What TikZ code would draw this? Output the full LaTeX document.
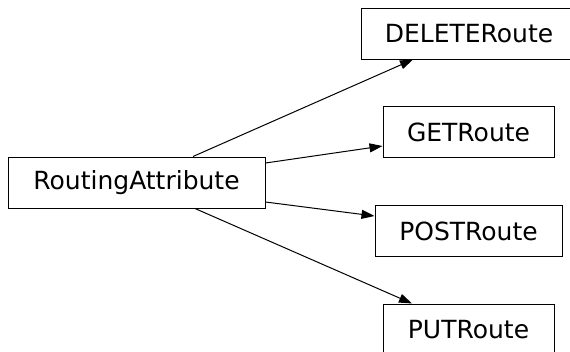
\documentclass[tikz,border=0pt]{standalone}
\usepackage{fontspec}
\setmainfont{DejaVu Sans}
\usetikzlibrary{arrows.meta,positioning}
\tikzset{
	cls/.style={draw,rectangle,line width=1pt,inner sep=0pt,minimum height=51pt,align=center,font=\fontsize{25}{30}\selectfont},
	inh/.style={line width=1pt,-{Triangle[length=13pt,width=9pt]}}
}
\begin{document}
\begin{tikzpicture}[x=1pt,y=-1pt]
			\useasboundingbox (0,0) rectangle (570,351);
			\node[cls,minimum width=257pt] (ra) at (136.5,182.5) {RoutingAttribute};
			\node[cls,minimum width=216pt] (del) at (469,33.5) {DELETERoute};
			\node[cls,minimum width=171pt] (get) at (468.5,132) {GETRoute};
			\node[cls,minimum width=187pt] (post) at (468.5,231) {POSTRoute};
			\node[cls,minimum width=171pt] (put) at (468.5,329.5) {PUTRoute};
			
			\draw[inh] ([xshift=56.5pt]ra.north) -- ([xshift=-56pt]del.south);
			\draw[inh] ([yshift=19.5pt]ra.east) -- ([yshift=-14pt]get.west);
			\draw[inh] ([yshift=-19.5pt]ra.east) -- ([yshift=15pt]post.west);
			\draw[inh] ([xshift=58.5pt]ra.south) -- ([xshift=-56.5pt]put.north);
		\end{tikzpicture}
\end{document}
